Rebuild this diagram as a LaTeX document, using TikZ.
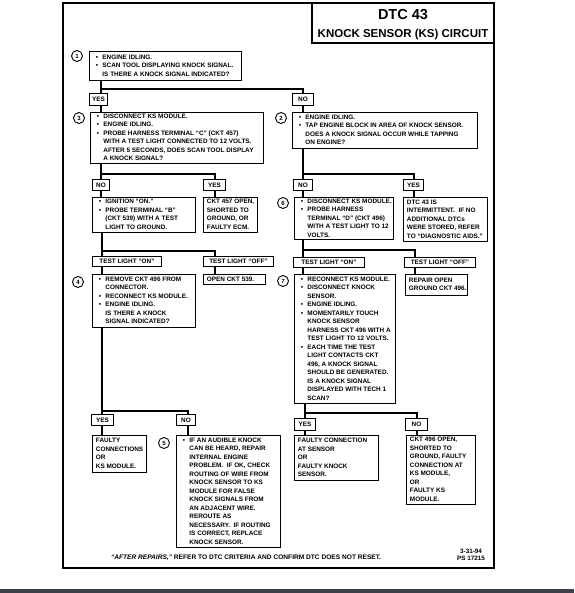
\documentclass[tikz,border=0pt]{standalone}
\usepackage{fontspec}
\setmainfont{Liberation Sans}
\usetikzlibrary{calc}
\newcommand\fs{\fontsize{6.4}{8.5}\selectfont\bfseries}
\newcommand\bi{\makebox[11.5pt][l]{\hspace{5pt}•}}
\newcommand\ci{\hspace*{11.5pt}}
\definecolor{barc}{HTML}{3B4049}
\tikzset{
  box/.style={draw, line width=0.9pt, anchor=north west, inner xsep=1.5pt, inner ysep=0pt, font=\fs},
  pbox/.style={box, inner xsep=3.5pt},
  lab/.style={draw, line width=0.9pt, anchor=north west, inner sep=0pt, font=\fs},
  conn/.style={line width=2.2pt},
  num/.style={draw, circle, line width=0.9pt, minimum size=11pt, inner sep=0pt, font=\fontsize{6}{6}\selectfont\bfseries},
  frame/.style={line width=1.1pt}
}
\newcommand\mkbox[6]{\pgfmathsetmacro\tw{#4-#2-3}\pgfmathsetmacro\th{#5-#3}\node[box,minimum height=\th pt] (#1) at (#2,#3) {\makebox[\tw pt][l]{\begin{tabular}{@{}l@{}}#6\end{tabular}}};}
\newcommand\mkpbox[6]{\pgfmathsetmacro\tw{#4-#2-7}\pgfmathsetmacro\th{#5-#3}\node[pbox,minimum height=\th pt] (#1) at (#2,#3) {\makebox[\tw pt][l]{\begin{tabular}{@{}l@{}}#6\end{tabular}}};}
\newcommand\mklab[6]{\pgfmathsetmacro\tw{#4-#2}\pgfmathsetmacro\th{#5-#3}\node[lab,minimum width=\tw pt,minimum height=\th pt] (#1) at (#2,#3) {#6};}
\begin{document}
\begin{tikzpicture}[x=1pt,y=-1pt]
\useasboundingbox (0,0) rectangle (574,593);
\fill[barc] (0,589) rectangle (574,593);
% frame and title
\draw[frame] (63,3) rectangle (494,568);
\draw[frame] (312,3) rectangle (494,43);
\node[font=\fontsize{14.5}{15}\selectfont\bfseries] (t1) at (403,14.5) {DTC 43};
\node[font=\fontsize{11.5}{12}\selectfont\bfseries] (t2) at (403,34.5) {KNOCK SENSOR (KS) CIRCUIT};
% step 1
\node[num] (n1) at (77,56) {1};
\mkbox{b1}{89}{51}{241}{80}{\bi ENGINE IDLING.\\ \bi SCAN TOOL DISPLAYING KNOCK SIGNAL.\\ \ci IS THERE A KNOCK SIGNAL INDICATED?}
\mklab{yes1}{89}{93}{107}{105}{YES}
\mklab{no1}{292}{93}{313}{105}{NO}
% step 3 and 2
\node[num] (n3) at (79,118) {3};
\mkbox{b3}{90}{112}{263}{163}{\bi DISCONNECT KS MODULE.\\ \bi ENGINE IDLING.\\ \bi PROBE HARNESS TERMINAL “C” (CKT 457)\\ \ci WITH A TEST LIGHT CONNECTED TO 12 VOLTS.\\ \ci AFTER 5 SECONDS, DOES SCAN TOOL DISPLAY\\ \ci A KNOCK SIGNAL?}
\node[num] (n2) at (281,118) {2};
\mkbox{b2}{292}{112}{477}{148}{\bi ENGINE IDLING.\\ \bi TAP ENGINE BLOCK IN AREA OF KNOCK SENSOR.\\ \ci DOES A KNOCK SIGNAL OCCUR WHILE TAPPING\\ \ci ON ENGINE?}
\mklab{no3}{92}{179}{109}{190}{NO}
\mklab{yes3}{203}{179}{225}{190}{YES}
\mklab{no2}{293}{179}{312}{190}{NO}
\mklab{yes2}{403}{179}{423}{190}{YES}
% second level
\mkbox{b4a}{92}{197}{195}{232}{\bi IGNITION “ON.”\\ \bi PROBE TERMINAL “B”\\ \ci (CKT 539) WITH A TEST\\ \ci LIGHT TO GROUND.}
\mkpbox{b5a}{203}{197}{257}{232}{CKT 457 OPEN,\\ SHORTED TO\\ GROUND, OR\\ FAULTY ECM.}
\node[num] (n6) at (283,203) {6};
\mkbox{b6}{294}{197}{393}{239}{\bi DISCONNECT KS MODULE.\\ \bi PROBE HARNESS\\ \ci TERMINAL “D” (CKT 496)\\ \ci WITH A TEST LIGHT TO 12\\ \ci VOLTS.}
\mkpbox{b6y}{403}{197}{487}{241}{DTC 43 IS\\ INTERMITTENT.\ \ IF NO\\ ADDITIONAL DTCs\\ WERE STORED, REFER\\ TO “DIAGNOSTIC AIDS.”}
\mklab{on1}{92}{256}{161}{266}{TEST LIGHT “ON”}
\mklab{off1}{203}{256}{273}{266}{TEST LIGHT “OFF”}
\mklab{on2}{293}{257}{364}{267}{TEST LIGHT “ON”}
\mklab{off2}{404}{257}{475}{267}{TEST LIGHT “OFF”}
% third level
\node[num] (n4) at (78,282) {4};
\mkbox{b4}{92}{274}{195}{327}{\bi REMOVE CKT 496 FROM\\ \ci CONNECTOR.\\ \bi RECONNECT KS MODULE.\\ \bi ENGINE IDLING.\\ \ci IS THERE A KNOCK\\ \ci SIGNAL INDICATED?}
\mkpbox{o539}{203}{274}{265}{284}{OPEN CKT 539.}
\node[num] (n7) at (283,281) {7};
\mkbox{b7}{294}{274}{395}{403}{\bi RECONNECT KS MODULE.\\ \bi DISCONNECT KNOCK\\ \ci SENSOR.\\ \bi ENGINE IDLING.\\ \bi MOMENTARILY TOUCH\\ \ci KNOCK SENSOR\\ \ci HARNESS CKT 496 WITH A\\ \ci TEST LIGHT TO 12 VOLTS.\\ \bi EACH TIME THE TEST\\ \ci LIGHT CONTACTS CKT\\ \ci 496, A KNOCK SIGNAL\\ \ci SHOULD BE GENERATED.\\ \ci IS A KNOCK SIGNAL\\ \ci DISPLAYED WITH TECH 1\\ \ci SCAN?}
\mkpbox{rep}{405}{274}{467}{295}{REPAIR OPEN\\ GROUND CKT 496.}
% bottom level
\mklab{yes4}{91}{414}{113}{425}{YES}
\mklab{no4}{176}{414}{195}{425}{NO}
\mklab{yes7}{294}{418}{315}{430}{YES}
\mklab{no7}{405}{418}{427}{430}{NO}
\mkpbox{fc}{92}{435}{146}{472}{FAULTY\\ CONNECTIONS\\ OR\\ KS MODULE.}
\node[num] (n5) at (164,443) {5};
\mkbox{b5}{176}{435}{280}{547}{\bi IF AN AUDIBLE KNOCK\\ \ci CAN BE HEARD, REPAIR\\ \ci INTERNAL ENGINE\\ \ci PROBLEM.\ \ IF OK, CHECK\\ \ci ROUTING OF WIRE FROM\\ \ci KNOCK SENSOR TO KS\\ \ci MODULE FOR FALSE\\ \ci KNOCK SIGNALS FROM\\ \ci AN ADJACENT WIRE.\\ \ci REROUTE AS\\ \ci NECESSARY.\ \ IF ROUTING\\ \ci IS CORRECT, REPLACE\\ \ci KNOCK SENSOR.}
\mkpbox{fcs}{294}{435}{378}{480}{FAULTY CONNECTION\\ AT SENSOR\\ OR\\ FAULTY KNOCK\\ SENSOR.}
\mkpbox{c496}{406}{435}{475}{504}{CKT 496 OPEN,\\ SHORTED TO\\ GROUND, FAULTY\\ CONNECTION AT\\ KS MODULE,\\ OR\\ FAULTY KS\\ MODULE.}
% footer
\node[font=\fontsize{6.6}{7}\selectfont\bfseries] (foot) at (246,558) {\textit{“AFTER REPAIRS,”} REFER TO DTC CRITERIA AND CONFIRM DTC DOES NOT RESET.};
\node[font=\fontsize{6.3}{7.5}\selectfont\bfseries, align=center] (date) at (471,555) {3-31-94\\ PS 17215};
% connectors
\coordinate (j1) at (101,89); \coordinate (j1r) at (303,89);
\draw[conn] (b1.south -| j1) -- (j1) -- (j1r) -- (no1.north -| j1r);
\draw[conn] (j1) -- (yes1.north -| j1);
\draw[conn] (yes1.south -| j1) -- (b3.north -| j1);
\draw[conn] (no1.south -| j1r) -- (b2.north -| j1r);
\coordinate (j3) at (101,174); \coordinate (j3r) at (215,174);
\draw[conn] (b3.south -| j3) -- (j3) -- (j3r) -- (yes3.north -| j3r);
\draw[conn] (j3) -- (no3.north -| j3);
\draw[conn] (no3.south -| j3) -- (b4a.north -| j3);
\draw[conn] (yes3.south -| j3r) -- (b5a.north -| j3r);
\coordinate (j2) at (303,174); \coordinate (j2r) at (414,174);
\draw[conn] (b2.south -| j2) -- (j2) -- (j2r) -- (yes2.north -| j2r);
\draw[conn] (j2) -- (no2.north -| j2);
\draw[conn] (no2.south -| j2) -- (b6.north -| j2);
\draw[conn] (yes2.south -| j2r) -- (b6y.north -| j2r);
\coordinate (j4) at (102,251); \coordinate (j4r) at (215,251);
\draw[conn] (b4a.south -| j4) -- (j4) -- (j4r) -- (off1.north -| j4r);
\draw[conn] (j4) -- (on1.north -| j4);
\draw[conn] (on1.south -| j4) -- (b4.north -| j4);
\draw[conn] (off1.south -| j4r) -- (o539.north -| j4r);
\coordinate (j6) at (303,250); \coordinate (j6r) at (415,250);
\draw[conn] (b6.south -| j6) -- (j6) -- (j6r) -- (off2.north -| j6r);
\draw[conn] (j6) -- (on2.north -| j6);
\draw[conn] (on2.south -| j6) -- (b7.north -| j6);
\draw[conn] (off2.south -| j6r) -- (rep.north -| j6r);
\coordinate (j5) at (102,411); \coordinate (j5r) at (188,411);
\draw[conn] (b4.south -| j5) -- (j5) -- (j5r) -- (no4.north -| j5r);
\draw[conn] (j5) -- (yes4.north -| j5);
\draw[conn] (yes4.south -| j5) -- (fc.north -| j5);
\draw[conn] (no4.south -| j5r) -- (b5.north -| j5r);
\coordinate (j7) at (305,413); \coordinate (j7r) at (417,413);
\draw[conn] (b7.south -| j7) -- (j7) -- (j7r) -- (no7.north -| j7r);
\draw[conn] (j7) -- (yes7.north -| j7);
\draw[conn] (yes7.south -| j7) -- (fcs.north -| j7);
\draw[conn] (no7.south -| j7r) -- (c496.north -| j7r);
\end{tikzpicture}
\end{document}
